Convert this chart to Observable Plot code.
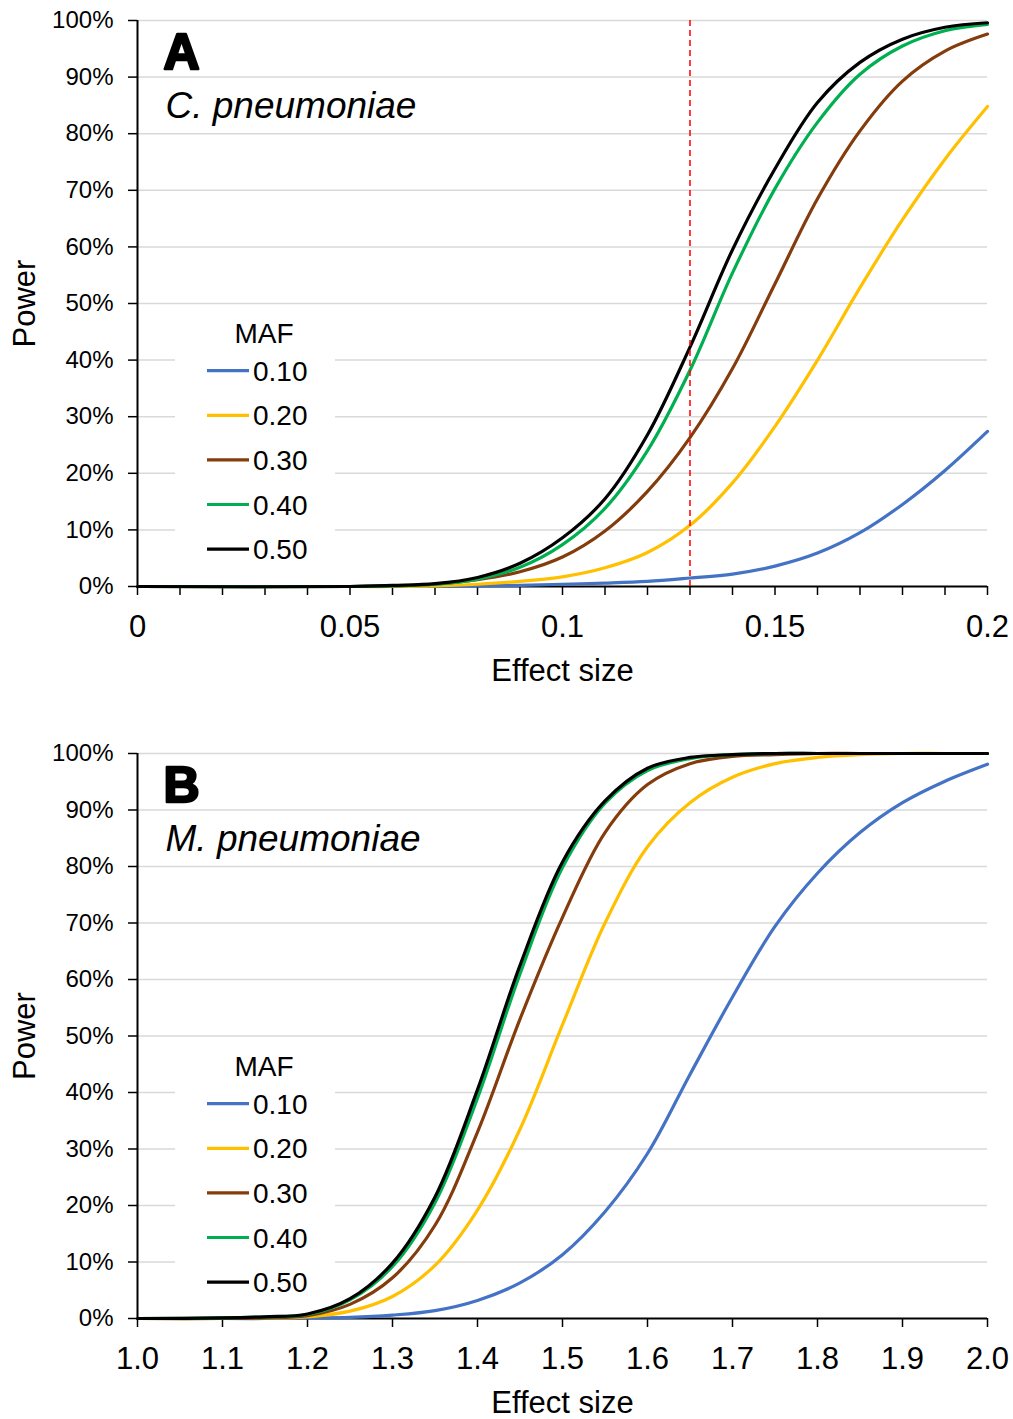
<!DOCTYPE html>
<html><head><meta charset="utf-8">
<script src="https://cdn.jsdelivr.net/npm/d3@7"></script>
<script src="https://cdn.jsdelivr.net/npm/@observablehq/plot@0.6"></script>
<style>
body{margin:0;background:#fff;font-family:"Liberation Sans",Arial,sans-serif;}
.panel{position:relative;width:1013px;}
.panel svg{display:block;}
</style></head><body>
<div id="root"></div>
<script>
// ---- shared ----
const mafLabels = ["0.10","0.20","0.30","0.40","0.50"];
const mafColors = ["#4472C4","#FFC000","#843C0C","#00B050","#000000"];
const legendTitle = "MAF";
const yTicks = [0,10,20,30,40,50,60,70,80,90,100];
const yLabel = "Power";
const xLabel = "Effect size";

// ---- panel A : C. pneumoniae ----
const letterA = "A";
const organismA = "C. pneumoniae";
const effectA = [0, 0.05, 0.06, 0.07, 0.08, 0.09, 0.10, 0.11, 0.12, 0.13, 0.14, 0.15, 0.16, 0.17, 0.18, 0.19, 0.20];
const powerA_010 = [0, 0, 0, 0, 0.1, 0.2, 0.4, 0.6, 0.9, 1.5, 2.2, 3.6, 5.9, 9.5, 14.5, 20.5, 27.4];
const powerA_020 = [0, 0, 0, 0.1, 0.4, 0.9, 1.7, 3.3, 6.0, 10.8, 18.3, 28.3, 40.0, 52.8, 64.8, 75.5, 84.8];
const powerA_030 = [0, 0, 0.1, 0.4, 1.2, 2.6, 5.2, 9.8, 16.8, 26.3, 38.5, 53.5, 68.5, 80.5, 89.3, 94.6, 97.6];
const powerA_040 = [0, 0, 0.1, 0.4, 1.3, 3.4, 7.4, 13.8, 24.0, 38.2, 55.4, 70.3, 82.0, 90.5, 95.5, 98.2, 99.3];
const powerA_050 = [0, 0, 0.2, 0.5, 1.6, 4.1, 8.6, 15.5, 26.8, 42.3, 59.5, 73.8, 85.5, 92.6, 96.7, 98.8, 99.6];
const thresholdA = [0.13];
const xDomainA = [0, 0.2];
const xMinorTicksA = [0,0.01,0.02,0.03,0.04,0.05,0.06,0.07,0.08,0.09,0.10,0.11,0.12,0.13,0.14,0.15,0.16,0.17,0.18,0.19,0.20];
const xLabelTicksA = [0, 0.05, 0.1, 0.15, 0.2];
const xTickLabelsA = ["0", "0.05", "0.1", "0.15", "0.2"];

// ---- panel B : M. pneumoniae ----
const letterB = "B";
const organismB = "M. pneumoniae";
const effectB = [1.0, 1.1, 1.15, 1.2, 1.25, 1.3, 1.35, 1.4, 1.45, 1.5, 1.55, 1.6, 1.65, 1.7, 1.75, 1.8, 1.85, 1.9, 1.95, 2.0];
const powerB_010 = [0, 0, 0, 0.1, 0.2, 0.6, 1.4, 3.2, 6.3, 11.3, 18.9, 29.2, 43.2, 56.9, 69.4, 78.8, 86.0, 91.3, 95.1, 98.1];
const powerB_020 = [0, 0, 0.1, 0.3, 1.3, 3.9, 9.4, 19.2, 33.5, 52.0, 70.0, 83.5, 91.3, 95.8, 98.2, 99.3, 99.8, 100, 100, 100];
const powerB_030 = [0, 0, 0.1, 0.5, 2.5, 7.2, 16.5, 33.0, 53.0, 71.0, 86.0, 94.5, 98.2, 99.5, 99.8, 100, 100, 100, 100, 100];
const powerB_040 = [0, 0.1, 0.3, 0.7, 3.3, 9.2, 20.5, 39.0, 61.0, 79.8, 91.2, 97.0, 99.1, 99.8, 100, 100, 100, 100, 100, 100];
const powerB_050 = [0, 0.1, 0.3, 0.8, 3.5, 9.8, 21.5, 40.5, 62.5, 80.8, 91.6, 97.4, 99.3, 99.8, 100, 100, 100, 100, 100, 100];
const thresholdB = [];
const xDomainB = [1, 2];
const xMinorTicksB = [1.0,1.1,1.2,1.3,1.4,1.5,1.6,1.7,1.8,1.9,2.0];
const xLabelTicksB = [1.0,1.1,1.2,1.3,1.4,1.5,1.6,1.7,1.8,1.9,2.0];
const xTickLabelsB = ["1.0","1.1","1.2","1.3","1.4","1.5","1.6","1.7","1.8","1.9","2.0"];

function toRows(xs, series) {
  const rows = [];
  series.forEach((vals, s) => vals.forEach((v, i) => rows.push({x: xs[i], y: v, maf: mafLabels[s]})));
  return rows;
}

function makePanel(cfg) {
  const rows = toRows(cfg.xs, cfg.series);
  const lookup = d => { const i = cfg.labelTicks.findIndex(t => Math.abs(t - d) < 1e-9); return i < 0 ? "" : cfg.tickLabels[i]; };
  const marks = [
    Plot.gridY(yTicks.slice(1), {stroke: "#d9d9d9", strokeOpacity: 1, strokeWidth: 1.5}),
    Plot.ruleY([0], {stroke: "#000", strokeWidth: 2}),
    Plot.ruleX([cfg.xDomain[0]], {y1: 0, y2: 100, stroke: "#000", strokeWidth: 2}),
    Plot.axisY(yTicks, {tickSize: 9, tickPadding: 15, tickFormat: d => d + "%", fontSize: 24, strokeWidth: 1.5, label: null}),
  ];
  if (cfg.sameTicks) {
    marks.push(Plot.axisX(cfg.labelTicks, {tickSize: 9, tickPadding: 19, tickFormat: lookup, fontSize: 31, strokeWidth: 1.5, label: null}));
  } else {
    marks.push(Plot.axisX(cfg.minorTicks, {tickSize: 9, tickFormat: () => "", strokeWidth: 1.5, label: null}));
    marks.push(Plot.axisX(cfg.labelTicks, {tickSize: 0, tickPadding: 28, tickFormat: lookup, fontSize: 31, label: null}));
  }
  marks.push(
    Plot.line(rows, {x: "x", y: "y", z: "maf", stroke: "maf", strokeWidth: 3.2, curve: "catmull-rom"}),
    Plot.ruleX(cfg.threshold, {y1: 0, y2: 100, stroke: "#FF0000", strokeWidth: 1.5, strokeDasharray: "6,4"}),
    Plot.text([cfg.letter], {text: d => d, frameAnchor: "top-left", dx: 26, dy: 13, lineAnchor: "top", textAnchor: "start", fontSize: 50, fontWeight: "bold", fill: "#000", stroke: "#000", strokeWidth: 2.5}),
    Plot.text([cfg.organism], {text: d => d, frameAnchor: "top-left", dx: 28, dy: 71, lineAnchor: "top", textAnchor: "start", fontSize: 37, fontStyle: "italic", fill: "#000"}),
    Plot.text([yLabel], {text: d => d, frameAnchor: "left", dx: -112, rotate: -90, textAnchor: "middle", fontSize: 31, fill: "#000"}),
    Plot.text([xLabel], {text: d => d, frameAnchor: "bottom", dy: 72, lineAnchor: "top", textAnchor: "middle", fontSize: 31, fill: "#000"})
  );
  const svg = Plot.plot({
    width: 1013,
    height: cfg.height,
    marginLeft: 137,
    marginRight: 26,
    marginTop: 20,
    marginBottom: cfg.marginBottom,
    style: {fontFamily: "'Liberation Sans', Arial, sans-serif", color: "#000", background: "#fff", overflow: "visible"},
    x: {domain: cfg.xDomain, label: null},
    y: {domain: [0, 100], label: null},
    color: {domain: mafLabels, range: mafColors},
    marks
  });
  const div = document.createElement("div");
  div.className = "panel";
  div.appendChild(svg);
  // legend box
  const lg = d3.create("svg").attr("width", 160).attr("height", 255)
    .style("position", "absolute").style("left", "175px").style("top", "310px").style("background", "#fff")
    .attr("font-family", "'Liberation Sans', Arial, sans-serif");
  lg.append("text").attr("x", 89).attr("y", 33).attr("text-anchor", "middle").attr("font-size", 28).attr("fill", "#000").text(legendTitle);
  mafLabels.forEach((m, i) => {
    const y = 60.7 + 44.6 * i;
    lg.append("line").attr("x1", 32).attr("x2", 74).attr("y1", y).attr("y2", y).attr("stroke", mafColors[i]).attr("stroke-width", 3.2);
    lg.append("text").attr("x", 78).attr("y", y + 10).attr("font-size", 28).attr("fill", "#000").text(m);
  });
  div.appendChild(lg.node());
  return div;
}

const root = document.getElementById("root");
root.appendChild(makePanel({
  xs: effectA, series: [powerA_010, powerA_020, powerA_030, powerA_040, powerA_050],
  xDomain: xDomainA, minorTicks: xMinorTicksA, labelTicks: xLabelTicksA, tickLabels: xTickLabelsA,
  threshold: thresholdA, letter: letterA, organism: organismA, height: 733, marginBottom: 147, sameTicks: false
}));
root.appendChild(makePanel({
  xs: effectB, series: [powerB_010, powerB_020, powerB_030, powerB_040, powerB_050],
  xDomain: xDomainB, minorTicks: xMinorTicksB, labelTicks: xLabelTicksB, tickLabels: xTickLabelsB,
  threshold: thresholdB, letter: letterB, organism: organismB, height: 686, marginBottom: 101, sameTicks: true
}));
</script>
</body></html>
